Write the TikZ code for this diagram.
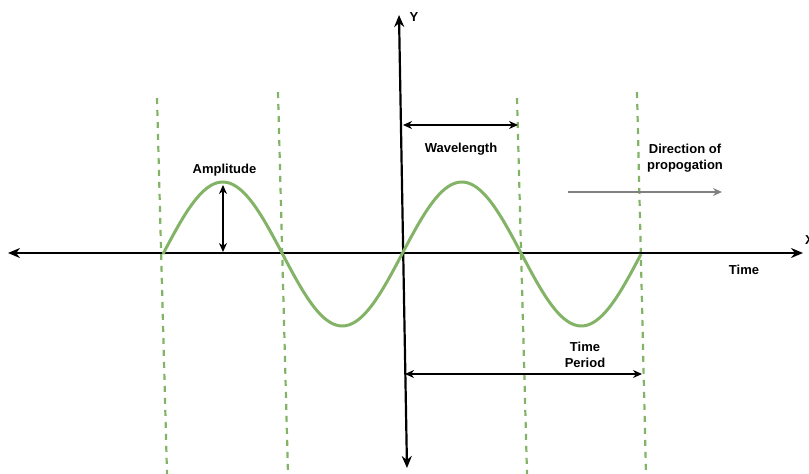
\documentclass[tikz,border=0pt]{standalone}
\usepackage{fontspec}
\setmainfont{Liberation Sans}
\usetikzlibrary{arrows.meta}
\definecolor{wavegreen}{HTML}{82B366}

\begin{document}
\begin{tikzpicture}[x=1pt,y=-1pt,
        axis/.style={line width=2.2pt,{Stealth[length=12pt,width=10pt]}-{Stealth[length=12pt,width=10pt]}},
        guide/.style={wavegreen,line width=2.2pt,dash pattern=on 6pt off 6pt},
        dim/.style={line width=1.4pt,{Stealth[length=9pt,width=8pt]}-{Stealth[length=9pt,width=8pt]}},
        lbl/.style={font=\fontsize{13}{15.5}\selectfont\bfseries,align=center,inner sep=0pt}]
        \useasboundingbox (0,0) rectangle (809,474);

        \draw[guide] (157,98) -- (167,474);
        \draw[guide] (278,92) -- (288,474);
        \draw[guide] (517,98) -- (527,474);
        \draw[guide] (637,92) -- (646,474);

        \coordinate (xl) at (8,253);
        \coordinate (xr) at (803,253);
        \coordinate (yt) at (399,15);
        \coordinate (yb) at (407,468);
        \draw[axis] (xl) -- (xr);
        \draw[axis] (yt) -- (yb);

        \draw[wavegreen,line width=3pt] plot[domain=163:641,samples=150,smooth] (\x,{254-72*sin((\x-163)*1.506)});

        \node[lbl,anchor=west] (xlab) at (805,240) {X};
        \node[lbl] (ylab) at (414,17.5) {Y};
        \node[lbl] (time) at (744,270) {Time};

        \node[lbl] (amp) at (224.5,170) {Amplitude};
        \coordinate (amptop) at (223,185);
        \coordinate (ampbot) at (223,252);
        \draw[dim] (amptop) -- (ampbot);

        \node[lbl] (wave) at (461,149) {Wavelength};
        \coordinate (wl) at (403,125);
        \coordinate (wr) at (518,125);
        \draw[dim] (wl) -- (wr);

        \node[lbl] (dir) at (685,158) {Direction of\\propogation};
        \coordinate (dl) at (568,192);
        \coordinate (dr) at (722,192);
        \draw[gray,line width=1.2pt,-{Stealth[length=9pt,width=8pt]}] (dl) -- (dr);

        \node[lbl] (period) at (585,355) {Time\\Period};
        \coordinate (pl) at (405,374);
        \coordinate (pr) at (642,374);
        \draw[dim] (pl) -- (pr);
    \end{tikzpicture}
\end{document}
